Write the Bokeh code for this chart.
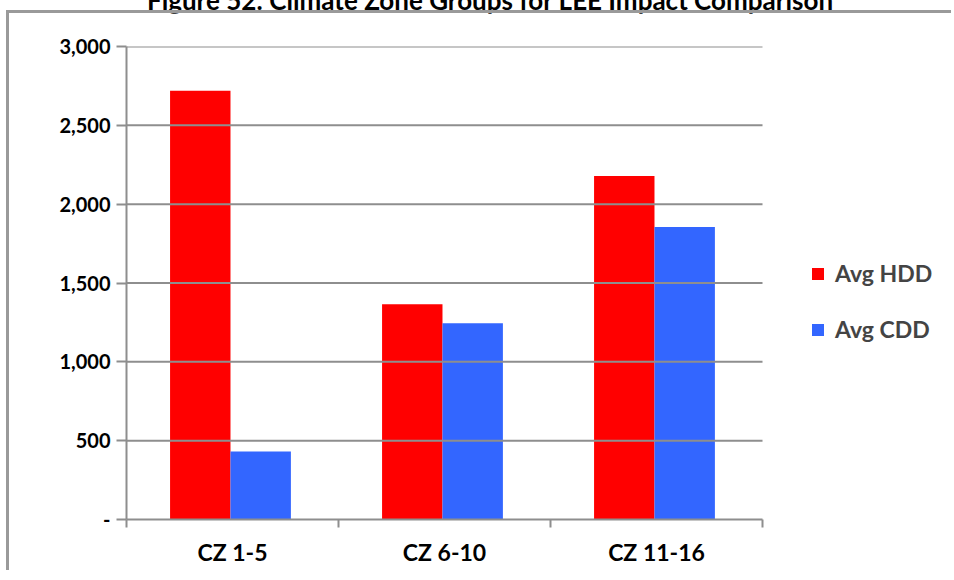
from bokeh.plotting import figure
from bokeh.layouts import column
from bokeh.models import (Range1d, FixedTicker, NumeralTickFormatter, Legend, LegendItem,
                          ColumnDataSource, Div)
from bokeh.transform import dodge
from bokeh.embed import file_html
from bokeh.resources import INLINE

categories = ["CZ 1-5", "CZ 6-10", "CZ 11-16"]
avg_hdd = [2719, 1366, 2179]
avg_cdd = [432, 1245, 1855]
series_names = ["Avg HDD", "Avg CDD"]
y_ticks = [0, 500, 1000, 1500, 2000, 2500, 3000]
title_text = "Figure 52: Climate Zone Groups for LEE Impact Comparison"

FONT = "Lato"
GRAY = "#8e8e8e"

# layout (pixels)
FIG_W, FIG_H = 945, 560
BORDER_L, BORDER_R, BORDER_T, BORDER_B = 117, 8, 33, 54
PLOT_W = 636                      # width of the bar area
FRAME_W = FIG_W - BORDER_L - BORDER_R

n = len(categories)
cat_pos = [i + 0.5 for i in range(n)]
src = ColumnDataSource(dict(pos=cat_pos, hdd=avg_hdd, cdd=avg_cdd))

x_end = n * FRAME_W / PLOT_W      # frame also holds the legend area to the right

p = figure(x_range=Range1d(0, x_end), y_range=Range1d(0, 3000),
           width=FIG_W, height=FIG_H, output_backend="svg", toolbar_location=None,
           min_border_left=BORDER_L, min_border_right=BORDER_R,
           min_border_top=BORDER_T, min_border_bottom=BORDER_B)
p.margin = (0, 0, 0, 9)
p.styles = {"box-shadow": "-3px -3px 0px 0px #9a9a9a"}
p.outline_line_color = None
p.background_fill_color = "white"
p.border_fill_color = "white"

r1 = p.vbar(x=dodge("pos", -0.152), top="hdd", width=0.285, source=src,
            fill_color="#FF0000", line_color=None)
r2 = p.vbar(x=dodge("pos", 0.133), top="cdd", width=0.285, source=src,
            fill_color="#3366FF", line_color=None)

# y axis
ya = p.yaxis[0]
ya.ticker = FixedTicker(ticks=y_ticks)
ya.formatter = NumeralTickFormatter(format="0,0")
ya.major_label_overrides = {0: "-"}
ya.axis_line_color = GRAY
ya.axis_line_width = 2
ya.major_tick_line_color = GRAY
ya.major_tick_line_width = 2
ya.major_tick_in = 0
ya.major_tick_out = 10
ya.minor_tick_line_color = None
ya.major_label_standoff = 6
ya.major_label_text_font = FONT
ya.major_label_text_font_style = "bold"
ya.major_label_text_font_size = "20px"
ya.major_label_text_color = "black"

p.xgrid.grid_line_color = None
p.ygrid.grid_line_color = None
# horizontal grid lines across the bar area only
p.segment(x0=[0] * (len(y_ticks) - 1), x1=[n] * (len(y_ticks) - 1),
          y0=y_ticks[1:], y1=y_ticks[1:], line_color=GRAY, line_width=2)

# x axis: labels at category centres, tick marks at category boundaries
xa = p.xaxis[0]
xa.bounds = (0, n)
xa.ticker = FixedTicker(ticks=cat_pos, minor_ticks=list(range(n + 1)))
xa.major_label_overrides = {pos: c for pos, c in zip(cat_pos, categories)}
xa.axis_line_color = GRAY
xa.axis_line_width = 2
xa.major_tick_line_color = None
xa.major_tick_in = 0
xa.major_tick_out = 8
xa.minor_tick_line_color = GRAY
xa.minor_tick_line_width = 2
xa.minor_tick_in = 0
xa.minor_tick_out = 8
xa.major_label_standoff = 10
xa.major_label_text_font = FONT
xa.major_label_text_font_style = "bold"
xa.major_label_text_font_size = "23px"
xa.major_label_text_color = "black"

legend = Legend(items=[LegendItem(label=series_names[0], renderers=[r1]),
                       LegendItem(label=series_names[1], renderers=[r2])],
                location=(684, 176), orientation="vertical")
legend.margin = 0
legend.padding = 0
legend.border_line_color = None
legend.background_fill_alpha = 0
legend.glyph_width = 15
legend.glyph_height = 15
legend.label_height = 15
legend.spacing = 28
legend.label_standoff = 10
legend.label_text_font = FONT
legend.label_text_font_style = "bold"
legend.label_text_font_size = "23px"
legend.label_text_baseline = "middle"
p.add_layout(legend, "center")

title_div = Div(text=title_text, width=954, height=30, margin=0,
                styles={"font-family": FONT, "font-weight": "bold", "font-size": "26px",
                        "line-height": "34px", "text-align": "center",
                        "padding-left": "26px", "color": "black", "white-space": "nowrap"})

layout = column(title_div, p, spacing=0, margin=0)
layout.styles = {"margin-top": "-17px"}

open("out.html", "w").write(file_html(layout, INLINE))
